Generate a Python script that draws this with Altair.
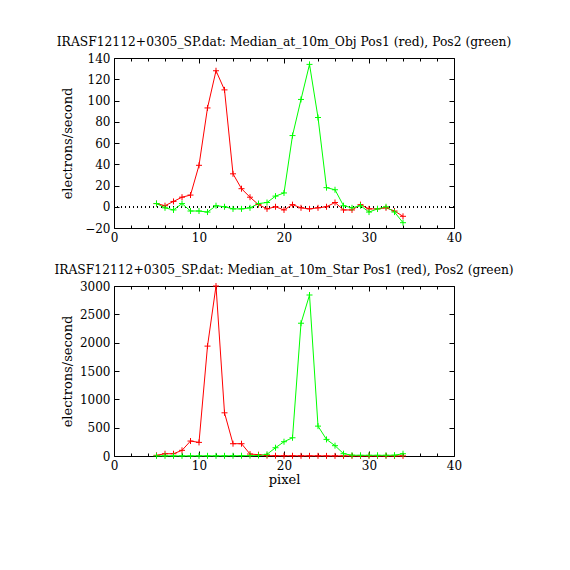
import altair as alt
import pandas as pd

# ---------------- data ----------------
pixels = list(range(5, 35))
obj_pos1 = [3, 1, 5, 9, 11, 39, 93, 128, 110, 31, 17, 9, 2, -2, 0, -3, 2, -1, -2, -1,
            0, 4, -3, -3, 2, -2, -2, -1, -4, -9]
obj_pos2 = [3, -1, -3, 3, -4, -4, -5, 1, 0, -2, -2, -1, 3, 4, 10, 13, 67, 101, 134, 84,
            18, 16, 1, -1, 1, -5, -2, 0, -5, -15]
star_pos1 = [12, 40, 40, 100, 264, 240, 1939, 3000, 762, 217, 217, 35, 23, 6, 5, 4, 4, 3, 3, 3,
             2, 2, 2, 2, 2, 2, 2, 2, 2, 2]
star_pos2 = [3, 3, 2, 2, 2, 3, 3, 3, 3, 4, 5, 6, 8, 30, 146, 252, 322, 2343, 2841, 527,
             293, 182, 41, 14, 12, 12, 12, 12, 14, 40]

x_major = [0, 10, 20, 30, 40]
x_minor = [2, 4, 6, 8, 12, 14, 16, 18, 22, 24, 26, 28, 32, 34, 36, 38]
obj_yticks = [-20, 0, 20, 40, 60, 80, 100, 120, 140]
star_yticks = [0, 500, 1000, 1500, 2000, 2500, 3000]

title_obj = "IRASF12112+0305_SP.dat: Median_at_10m_Obj Pos1 (red), Pos2 (green)"
title_star = "IRASF12112+0305_SP.dat: Median_at_10m_Star Pos1 (red), Pos2 (green)"

FONT = "DejaVu Serif"
W, H = 340, 170
PLUS = "M-1,0L1,0M0,-1L0,1"


def panel(vals1, vals2, ydom, yticks, title, xtitle, zero):
    df1 = pd.DataFrame({"pixel": pixels, "value": vals1})
    df2 = pd.DataFrame({"pixel": pixels, "value": vals2})
    xs = alt.Scale(domain=[0, 40], nice=False, zero=False)
    ys = alt.Scale(domain=ydom, nice=False, zero=False)

    def X(axis):
        return alt.X("pixel:Q", scale=xs, axis=axis)

    def Y(axis):
        return alt.Y("value:Q", scale=ys, axis=axis)

    main_x = alt.Axis(values=x_major, tickSize=0, domain=False, grid=False, format="d",
                      labelFlush=False, labelPadding=4, title=xtitle, titlePadding=2)
    main_y = alt.Axis(values=yticks, tickSize=0, domain=False, grid=False, format="d",
                      labelPadding=4, labelFlush=False, title="electrons/second",
                      titleX=-47, titleY=H / 2, titleBaseline="middle")

    def tick_axis(orient, vals, size):
        return alt.Axis(orient=orient, values=vals, tickSize=size, offset=-size,
                        labels=False, domain=False, grid=False, title=None)

    red_line = alt.Chart(df1).mark_line(color="#ff0000", strokeWidth=1).encode(
        x=X(main_x), y=Y(main_y))
    red_pts = alt.Chart(df1).mark_point(shape=PLUS, filled=False, size=36,
                                        color="#ff0000", strokeWidth=1, opacity=1).encode(
        x=X(None), y=Y(None))
    green_line = alt.Chart(df2).mark_line(color="#00ff00", strokeWidth=1).encode(
        x=X(None), y=Y(None))
    green_pts = alt.Chart(df2).mark_point(shape=PLUS, filled=False, size=36,
                                          color="#00ff00", strokeWidth=1, opacity=1).encode(
        x=X(None), y=Y(None))

    t1 = alt.Chart(df1).mark_point(opacity=0).encode(
        x=X(tick_axis("bottom", x_major, 5)), y=Y(tick_axis("left", yticks, 5)))
    t2 = alt.Chart(df1).mark_point(opacity=0).encode(
        x=X(tick_axis("top", x_major, 5)), y=Y(tick_axis("right", yticks, 5)))
    t3 = alt.Chart(df1).mark_point(opacity=0).encode(
        x=X(tick_axis("bottom", x_minor, 3)), y=Y(None))
    t4 = alt.Chart(df1).mark_point(opacity=0).encode(
        x=X(tick_axis("top", x_minor, 3)), y=Y(None))

    layers = [red_line, green_line, red_pts, green_pts, t1, t2, t3, t4]
    if zero:
        zl = alt.Chart(df1).mark_rule(color="black", strokeWidth=1, strokeDash=[1, 3]).encode(
            y=alt.datum(0, scale=ys, axis=None))
        layers.insert(0, zl)

    return alt.layer(*layers).properties(
        width=W, height=H, title=title
    ).resolve_axis(x="independent", y="independent")


top = panel(obj_pos1, obj_pos2, [-20, 140], obj_yticks, title_obj, None, True)
bottom = panel(star_pos1, star_pos2, [0, 3000], star_yticks, title_star, "pixel", False)

chart = alt.vconcat(top, bottom, spacing=19).properties(
    padding={"left": 45, "top": 27, "right": 5, "bottom": 5},
    background="white"
).configure_view(
    stroke="black", strokeWidth=1
).configure_axis(
    labelFont=FONT, labelFontSize=12, labelColor="black",
    titleFont=FONT, titleFontSize=13, titleFontWeight="normal", titleColor="black",
    tickColor="black"
).configure_title(
    font=FONT, fontSize=12.3, fontWeight="normal", color="black",
    anchor="middle", frame="group", offset=4
)

chart.save("out.html", embed_options={"renderer": "svg", "actions": False})
